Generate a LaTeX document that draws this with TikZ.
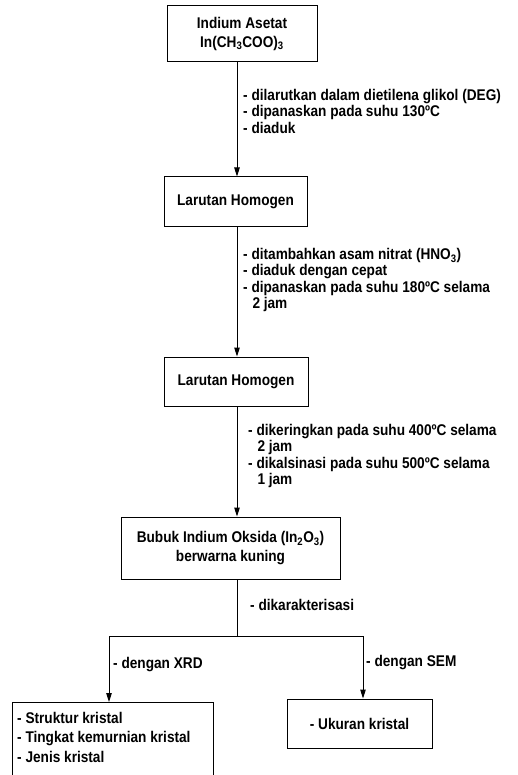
\documentclass[tikz,border=0pt]{standalone}
\usepackage{fontspec}
\setmainfont{Liberation Sans}[FakeStretch=0.88]
\usetikzlibrary{arrows.meta}
\begin{document}
\begin{tikzpicture}[x=1pt,y=-1pt,
  txt/.style={font=\fontsize{15.5}{16.5}\selectfont\bfseries},
  boxtxt/.style={font=\fontsize{15.5}{18.5}\selectfont\bfseries},
  box/.style={boxtxt, draw, line width=1pt, inner sep=0pt, align=center},
  lbl/.style={txt, inner sep=0pt, align=left, anchor=north west},
  arr/.style={line width=1pt, -{Triangle[length=9pt,width=5.5pt]}},
  ln/.style={line width=1pt}]
\clip (0,0) rectangle (517,775);
% boxes
\node[box, minimum width=150pt, minimum height=56pt] (b1) at (242,34)
  {Indium Asetat\\In(CH\textsubscript{3}COO)\textsubscript{3}};
\node[box, minimum width=143pt, minimum height=50pt] (b2) at (235.5,202) {Larutan Homogen};
\node[box, minimum width=144pt, minimum height=49pt] (b3) at (236,381.5) {Larutan Homogen};
\node[box, minimum width=219pt, minimum height=62pt] (b4) at (230.5,548)
  {Bubuk Indium Oksida (In\textsubscript{2}O\textsubscript{3})\\berwarna kuning};
\node[box, anchor=north west, minimum width=201pt, minimum height=100pt] (b5) at (12,702) {};
\node[lbl, font=\fontsize{15.5}{19.5}\selectfont\bfseries] (b5t) at (17,712)
  {- Struktur kristal\\- Tingkat kemurnian kristal\\- Jenis kristal};
\node[box, minimum width=145pt, minimum height=49pt] (b6) at (359.5,723.5) {- Ukuran kristal};
% labels
\node[lbl] (s1) at (243,89)
  {- dilarutkan dalam dietilena glikol (DEG)\\- dipanaskan pada suhu 130ºC\\- diaduk};
\node[lbl] (s2) at (243,248)
  {- ditambahkan asam nitrat (HNO\textsubscript{3})\\- diaduk dengan cepat\\- dipanaskan pada suhu 180ºC selama\\\hspace*{0.6em}2 jam};
\node[lbl] (s3) at (248,424)
  {- dikeringkan pada suhu 400ºC selama\\\hspace*{0.6em}2 jam\\- dikalsinasi pada suhu 500ºC selama\\\hspace*{0.6em}1 jam};
\node[lbl] (s4) at (250,599) {- dikarakterisasi};
\node[lbl] (s5) at (113,657) {- dengan XRD};
\node[lbl] (s6) at (366,655) {- dengan SEM};
% connectors
\coordinate (ax) at (237,0);
\coordinate (sp) at (237,636);
\coordinate (sl) at (109,636);
\coordinate (sr) at (363,636);
\draw[arr] (ax |- b1.south) -- (ax |- b2.north);
\draw[arr] (ax |- b2.south) -- (ax |- b3.north);
\draw[arr] (ax |- b3.south) -- (ax |- b4.north);
\draw[ln] (ax |- b4.south) -- (sp);
\draw[ln] (sl) -- (sr);
\draw[arr] (sl) -- (sl |- b5.north);
\draw[arr] (sr) -- (sr |- b6.north);
\end{tikzpicture}
\end{document}
